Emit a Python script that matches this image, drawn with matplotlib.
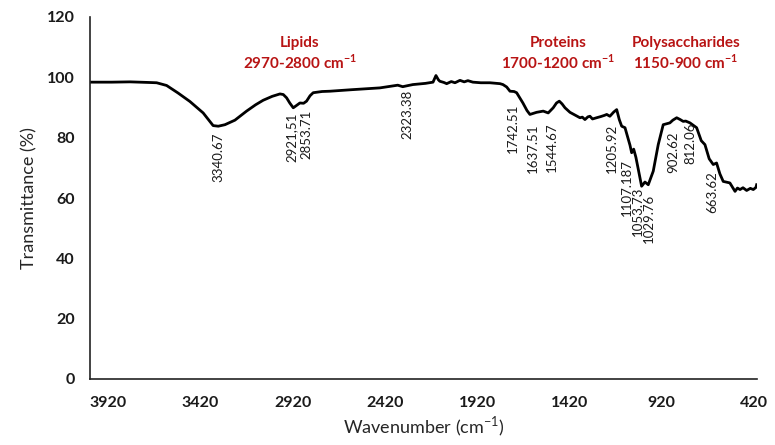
import matplotlib
matplotlib.use("Agg")
import matplotlib.pyplot as plt

plt.rcParams['font.family'] = ['Lato', 'DejaVu Sans']
plt.rcParams['mathtext.fontset'] = 'custom'
plt.rcParams['mathtext.rm'] = 'Lato'
plt.rcParams['mathtext.bf'] = 'Lato:bold'

# ---- data ----
wavenumber = [4017, 3900, 3800, 3700, 3656, 3602, 3540, 3476, 3404, 3350, 3322, 3286,
              3232, 3169, 3120, 3079, 3030, 2988, 2970, 2952, 2935, 2916, 2900, 2880,
              2860, 2844, 2825, 2808, 2760, 2717, 2600, 2447, 2350, 2323, 2300, 2268,
              2200, 2159, 2143, 2130, 2122, 2100, 2085, 2060, 2040, 2013, 1990, 1970,
              1943, 1900, 1851, 1796, 1780, 1760, 1742, 1720, 1706, 1672, 1650, 1634,
              1598, 1562, 1535, 1508, 1490, 1475, 1460, 1444, 1417, 1390, 1363, 1350,
              1336, 1320, 1309, 1295, 1273, 1250, 1230, 1218, 1201, 1180, 1164, 1150,
              1137, 1119, 1092, 1083, 1072, 1060, 1047, 1029, 1011, 993, 966, 939, 912,
              876, 860, 839, 820, 804, 790, 767, 731, 706, 686, 663, 641, 623, 605, 587,
              551, 523, 510, 496, 480, 460, 440, 424, 410, 406]
transmittance = [98.4, 98.4, 98.5, 98.3, 98.2, 97.3, 94.8, 92.0, 88.2, 84.0, 83.8, 84.3,
                 85.8, 88.8, 90.9, 92.4, 93.7, 94.5, 94.3, 93.2, 91.5, 89.9, 90.6, 91.5,
                 91.4, 92.1, 93.9, 94.9, 95.3, 95.4, 95.9, 96.5, 97.4, 96.9, 97.2, 97.6,
                 98.0, 98.4, 100.6, 99.2, 98.7, 98.3, 97.9, 98.6, 98.2, 99.0, 98.5, 98.9,
                 98.4, 98.2, 98.2, 97.9, 97.6, 96.8, 95.4, 95.3, 94.9, 91.5, 89.0, 87.7,
                 88.4, 88.8, 88.2, 89.9, 91.5, 92.1, 91.2, 89.9, 88.4, 87.5, 86.6, 86.8,
                 86.0, 86.9, 87.1, 86.2, 86.6, 87.0, 87.4, 87.7, 87.1, 88.5, 89.3, 86.0,
                 83.8, 83.3, 77.5, 75.0, 76.2, 73.5, 69.5, 63.9, 65.3, 64.4, 68.9, 77.7, 84.3,
                 84.9, 85.8, 86.6, 86.0, 85.4, 85.5, 84.9, 83.3, 79.0, 77.7, 73.0, 71.1, 71.6,
                 68.0, 65.5, 65.0, 62.2, 63.3, 62.8, 63.4, 62.5, 63.2, 62.8, 63.5, 64.4]

peak_labels = ["3340.67", "2921,51", "2853.71", "2323.38", "1742.51", "1637.51", "1544.67",
               "1205.92", "1107.187", "1053.73", "1029.76", "902.62", "812.06", "663.62"]
# label centre positions (data coordinates)
peak_label_x = [3324, 2923, 2842, 2295, 1726, 1618, 1515, 1190, 1109, 1049, 989, 859, 767, 648]
peak_label_y = [73.4, 80.0, 81.0, 87.7, 83.0, 76.4, 76.7, 76.4, 63.5, 55.5, 53.2, 75.1, 78.0, 62.1]

region_names = ["Lipids", "Proteins", "Polysaccharides"]
region_ranges = [r"2970-2800 cm$^{\mathbf{-1}}$", r"1700-1200 cm$^{\mathbf{-1}}$",
                 r"1150-900 cm$^{\mathbf{-1}}$"]
region_x = [2880, 1482, 790]

x_ticks = [3920, 3420, 2920, 2420, 1920, 1420, 920, 420]
y_ticks = [0, 20, 40, 60, 80, 100, 120]

# ---- figure ----
fig = plt.figure(figsize=(7.75, 4.45), dpi=100)
W, H = 775, 445
ax = fig.add_axes([90 / W, (H - 379) / H, (757 - 90) / W, (379 - 17) / H])

ax.plot(wavenumber, transmittance, color='black', lw=2.0, solid_joinstyle='round')

ax.set_xlim(4017, 404)
ax.set_ylim(0, 120)
ax.set_xticks(x_ticks)
ax.set_xticklabels([str(t) for t in x_ticks])
ax.set_yticks(y_ticks)
ax.tick_params(length=0, labelsize=11.5, colors='#1a1a1a')
ax.tick_params(axis='x', pad=12)
ax.tick_params(axis='y', pad=11)
for lab in ax.get_xticklabels() + ax.get_yticklabels():
    lab.set_fontweight('bold')

for s in ['top', 'right']:
    ax.spines[s].set_visible(False)
for s in ['left', 'bottom']:
    ax.spines[s].set_color('#222222')
    ax.spines[s].set_linewidth(1.2)

ax.set_xlabel(r"Wavenumber (cm$^{\mathrm{-1}}$)", fontsize=13, color='#262626', labelpad=4)
ax.set_ylabel("Transmittance (%)", fontsize=13, color='#262626', labelpad=7)

for lab, x, y in zip(peak_labels, peak_label_x, peak_label_y):
    ax.text(x, y, lab, rotation=90, ha='center', va='center', fontsize=9.5, color='#1a1a1a')

red = '#B81414'
for name, rng, x in zip(region_names, region_ranges, region_x):
    ax.text(x, 111.5, name, ha='center', va='center', fontsize=11, fontweight='bold',
            color=red, clip_on=False)
    ax.text(x, 104.9, rng, ha='center', va='center', fontsize=11, fontweight='bold',
            color=red, clip_on=False)

fig.savefig("out.png", dpi=100)
